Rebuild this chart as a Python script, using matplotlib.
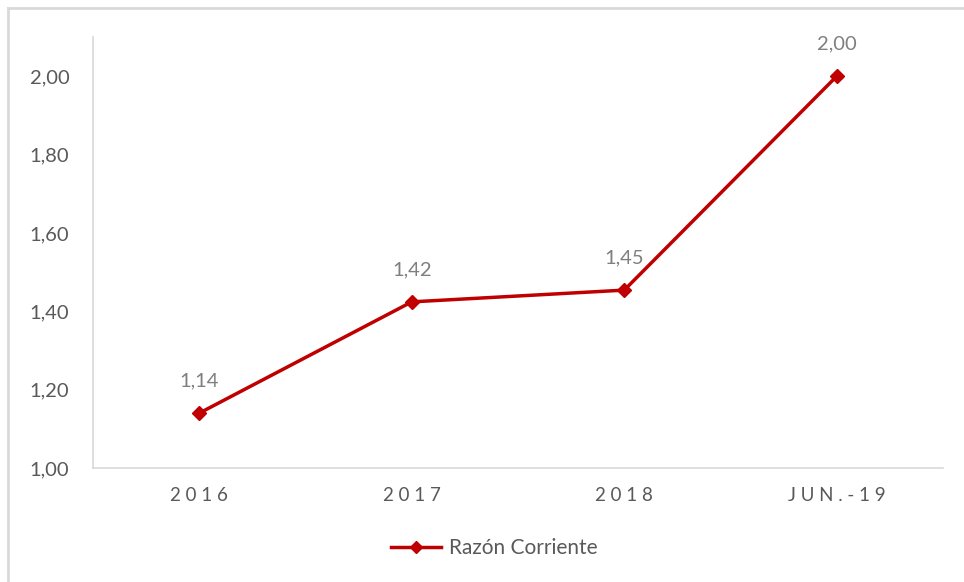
import matplotlib.pyplot as plt
from matplotlib.lines import Line2D

periods = ['2016', '2017', '2018', 'JUN.-19']
razon = [1.14, 1.424, 1.454, 2.00]
ytick_vals = [1.0, 1.2, 1.4, 1.6, 1.8, 2.0]

plt.rcParams['font.family'] = ['Lato', 'DejaVu Sans']

RED = '#C00000'
GREY = '#595959'
LIGHT = '#D9D9D9'

fig = plt.figure(figsize=(9.64, 5.82), dpi=100)
ax = fig.add_axes([93 / 964, 114 / 582, 850 / 964, 431 / 582])

x = list(range(len(periods)))
ax.plot(x, razon, color=RED, lw=2.5, marker='D', markersize=7.5, zorder=3)

for xi, v in zip(x, razon):
    ax.annotate(f'{v:.2f}'.replace('.', ','), (xi, v), xytext=(0, 17),
                textcoords='offset points', ha='center', va='bottom',
                fontsize=14.5, color='#7F7F7F')

ax.set_xlim(-0.5, 3.5)
ax.set_ylim(1.0, 2.1)
ax.set_yticks(ytick_vals)
ax.set_yticklabels([f'{v:.2f}'.replace('.', ',') for v in ytick_vals],
                   fontsize=14.5, color=GREY)
ax.set_xticks(x)
ax.set_xticklabels([' '.join(p) for p in periods], fontsize=13.5, color=GREY)
ax.tick_params(axis='both', length=0)
ax.tick_params(axis='y', pad=17)
ax.tick_params(axis='x', pad=14)

for s in ['top', 'right']:
    ax.spines[s].set_visible(False)
for s in ['left', 'bottom']:
    ax.spines[s].set_color(LIGHT)
    ax.spines[s].set_linewidth(1.2)

handle = Line2D([], [], color=RED, lw=2.5, marker='D', markersize=6)
fig.legend([handle], ['Razón Corriente'], loc='center',
           bbox_to_anchor=(494 / 964, 1 - 548 / 582), frameon=False,
           fontsize=15, labelcolor=GREY, handlelength=2.4, handletextpad=0.4)

# chart border (top and left visible)
fig.add_artist(Line2D([8 / 964, 1], [1 - 8 / 582] * 2, color=LIGHT, lw=2,
                      transform=fig.transFigure))
fig.add_artist(Line2D([8 / 964] * 2, [0, 1 - 8 / 582], color=LIGHT, lw=2,
                      transform=fig.transFigure))

fig.savefig('out.png', dpi=100)
